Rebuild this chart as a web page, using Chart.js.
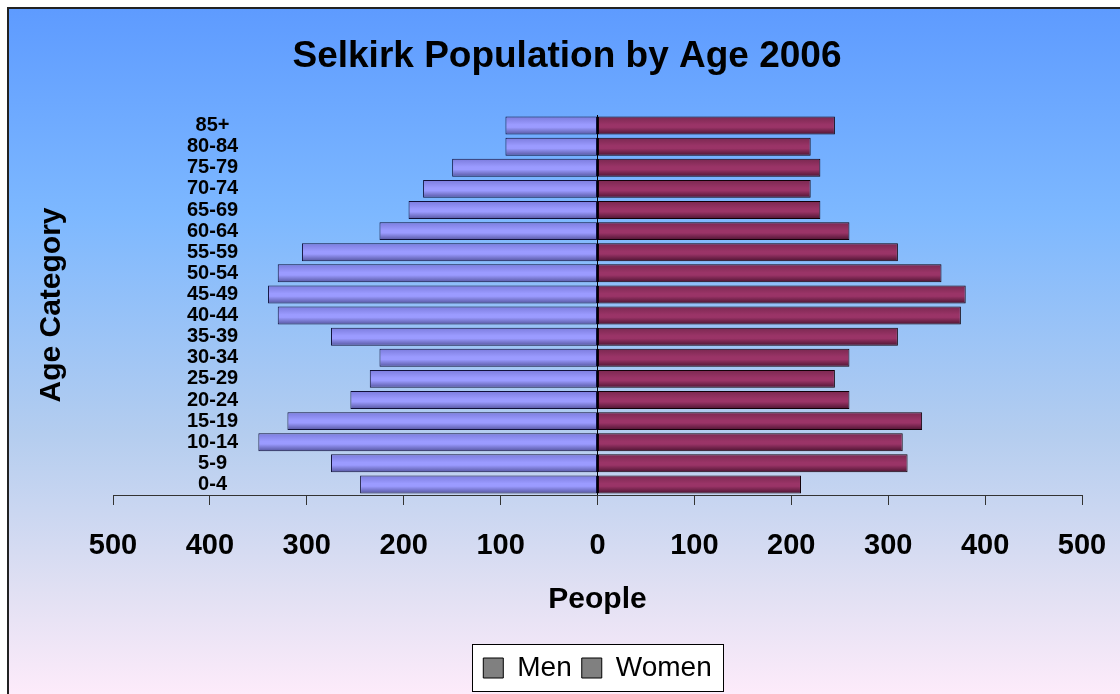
<!DOCTYPE html>
<html>
<head>
<meta charset="utf-8">
<title>Selkirk Population by Age 2006</title>
<script src="https://cdn.jsdelivr.net/npm/chart.js@4.4.1/dist/chart.umd.min.js"></script>
<style>
  html, body { margin: 0; padding: 0; background: #fff; }
  #frame {
    position: absolute; left: 7px; top: 7px; width: 1113px; height: 687px;
    box-sizing: border-box;
    border-left: 2px solid #222; border-top: 2px solid #222;
    background: linear-gradient(to bottom, #5e9bff 0%, #7db8ff 30%, #b4cdef 62%, #e1e0f3 85%, #fdebfa 100%);
  }
  #wrap { position: absolute; left: 0; top: 0; width: 1120px; height: 694px; }
</style>
</head>
<body>
<div id="frame"></div>
<div id="wrap"><canvas id="chart" width="1120" height="694"></canvas></div>
<script>
// Selkirk population pyramid, 2006
const ageGroups = ['0-4', '5-9', '10-14', '15-19', '20-24', '25-29', '30-34', '35-39', '40-44',
  '45-49', '50-54', '55-59', '60-64', '65-69', '70-74', '75-79', '80-84', '85+'];
const men = [245, 275, 350, 320, 255, 235, 225, 275, 330, 340, 330, 305, 225, 195, 180, 150, 95, 95];
const women = [210, 320, 315, 335, 260, 245, 260, 310, 375, 380, 355, 310, 260, 230, 220, 230, 220, 245];
const xTicks = [-500, -400, -300, -200, -100, 0, 100, 200, 300, 400, 500];

const BAR_PCT = 0.85;
const FONT = '"Liberation Sans", Arial, sans-serif';

// vertical shading for each bar, like the old Excel 3D-ish fill
function shade(top, mid, bottom) {
  return (c) => {
    const chart = c.chart;
    const ys = chart.scales.y;
    if (!chart.chartArea || !ys || c.dataIndex === undefined) return mid;
    const centre = ys.getPixelForValue(c.dataIndex);
    const half = Math.abs(ys.getPixelForValue(1) - ys.getPixelForValue(0)) * BAR_PCT / 2;
    const g = chart.ctx.createLinearGradient(0, centre - half, 0, centre + half);
    g.addColorStop(0, top);
    g.addColorStop(0.45, mid);
    g.addColorStop(0.6, mid);
    g.addColorStop(1, bottom);
    return g;
  };
}

const legendFrame = {
  id: 'legendFrame',
  beforeDraw(chart) {
    const lg = chart.legend;
    if (!lg || !lg.legendHitBoxes.length) return;
    const hb = lg.legendHitBoxes;
    const last = hb[hb.length - 1];
    const left = Math.round(hb[0].left - 11) + 0.5;
    const right = Math.round(last.left + last.width + 11) + 0.5;
    const top = Math.round(lg.top) + 0.5;
    const bottom = Math.round(lg.bottom) - 0.5;
    const ctx = chart.ctx;
    ctx.save();
    ctx.fillStyle = '#fff';
    ctx.fillRect(left, top, right - left, bottom - top);
    ctx.strokeStyle = '#000';
    ctx.lineWidth = 1;
    ctx.strokeRect(left, top, right - left, bottom - top);
    ctx.restore();
  }
};

new Chart(document.getElementById('chart'), {
  type: 'bar',
  data: {
    labels: ageGroups,
    datasets: [
      {
        label: 'Men',
        data: men.map(v => -v),
        backgroundColor: shade('#7b7bdc', '#9b9bff', '#55559f'),
        borderColor: '#10103a',
        borderWidth: 1,
        borderSkipped: false
      },
      {
        label: 'Women',
        data: women,
        backgroundColor: shade('#7a2850', '#9a3467', '#4c1431'),
        borderColor: '#120008',
        borderWidth: 1,
        borderSkipped: false
      }
    ]
  },
  options: {
    indexAxis: 'y',
    responsive: false,
    animation: false,
    devicePixelRatio: 1,
    barPercentage: BAR_PCT,
    categoryPercentage: 1,
    layout: { padding: { left: 52, right: 38, top: 0, bottom: 2 } },
    plugins: {
      title: {
        display: true,
        text: 'Selkirk Population by Age 2006',
        color: '#000',
        font: { family: FONT, size: 37, weight: 'bold', lineHeight: 1.2 },
        padding: { top: 34.8, bottom: 35.8 }
      },
      legend: {
        position: 'bottom',
        fullSize: false,
        labels: {
          color: '#000',
          font: { family: FONT, size: 28 },
          boxWidth: 20,
          boxHeight: 20,
          padding: 10,
          generateLabels: (chart) => chart.data.datasets.map((ds, i) => ({
            text: ds.label,
            fillStyle: '#808080',
            strokeStyle: '#000',
            lineWidth: 1,
            datasetIndex: i
          }))
        }
      },
      tooltip: { enabled: false }
    },
    scales: {
      x: {
        stacked: true,
        min: -500,
        max: 500,
        afterBuildTicks: (axis) => { axis.ticks = xTicks.map(v => ({ value: v })); },
        ticks: {
          color: '#000',
          padding: 12,
          font: { family: FONT, size: 29, weight: 'bold', lineHeight: 2 },
          callback: (v) => Math.abs(v)
        },
        grid: {
          drawOnChartArea: true,
          color: (c) => (c.tick && c.tick.value === 0 ? '#000' : 'rgba(0,0,0,0)'),
          tickColor: '#333',
          tickLength: 10,
          lineWidth: 1
        },
        border: { display: true, color: '#333', width: 1 },
        title: {
          display: true,
          text: 'People',
          color: '#000',
          font: { family: FONT, size: 30, weight: 'bold', lineHeight: 1 },
          padding: { top: -2, bottom: 29 }
        }
      },
      y: {
        stacked: true,
        reverse: true,
        grid: { display: false, drawTicks: false },
        border: { display: false },
        ticks: {
          autoSkip: false,
          mirror: true,
          crossAlign: 'center',
          padding: 74,
          color: '#000',
          font: { family: FONT, size: 20, weight: 'bold', lineHeight: 1 }
        },
        title: {
          display: true,
          text: 'Age Category',
          color: '#000',
          font: { family: FONT, size: 30, weight: 'bold', lineHeight: 1 },
          padding: { top: -15, bottom: -102 }
        }
      }
    }
  },
  plugins: [legendFrame]
});
</script>
</body>
</html>
